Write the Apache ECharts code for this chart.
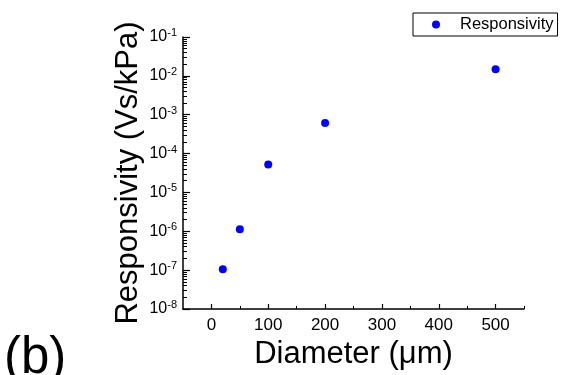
<!DOCTYPE html>
<html>
<head>
<meta charset="utf-8">
<script src="https://cdn.jsdelivr.net/npm/echarts@6/dist/echarts.min.js"></script>
<style>html,body{margin:0;padding:0;background:#fff}#c{width:561px;height:375px}</style>
</head>
<body>
<div id="c"></div>
<script>
const diameters = [20, 50, 100, 200, 500];
const responsivity = [1.06e-7, 1.12e-6, 5.2e-5, 6.1e-4, 1.48e-2];
const xTickValues = [0, 100, 200, 300, 400, 500];
const xMinorValues = [50, 150, 250, 350, 450, 550];
const yTickValues = [1e-8, 1e-7, 1e-6, 1e-5, 1e-4, 1e-3, 1e-2, 1e-1];
const yMinorValues = [];
for (let e = -8; e < -1; e++) for (let m = 2; m <= 9; m++) yMinorValues.push(+(m + 'e' + e));

const chart = echarts.init(document.getElementById('c'));
const font = 'Arial, "Liberation Sans", sans-serif';
chart.setOption({
  animation: false,
  textStyle: {fontFamily: font},
  grid: {left: 183, right: 37, top: 37, bottom: 63.5},
  legend: {
    left: 413, top: 13, padding: [3, 4, 3, 19],
    borderColor: '#000', borderWidth: 1, borderRadius: 0,
    icon: 'circle', itemWidth: 8, itemHeight: 8,
    textStyle: {fontSize: 16.5, color: '#000', fontFamily: font, padding: [0, 0, 0, 15]},
    data: ['Responsivity']
  },
  xAxis: [{
    type: 'value', min: -50, max: 550,
    name: 'Diameter (μm)', nameLocation: 'middle', nameGap: 30, nameMoveOverlap: false,
    nameTextStyle: {fontSize: 31, color: '#000', fontFamily: font},
    axisLine: {onZero: false, lineStyle: {color: '#000', width: 1.5}},
    axisTick: {inside: true, length: 5, customValues: xTickValues, lineStyle: {color: '#000', width: 1.2}},
    axisLabel: {customValues: xTickValues, fontSize: 17, color: '#000', margin: 8},
    splitLine: {show: false}
  }, {
    type: 'value', min: -50, max: 550, position: 'bottom',
    axisLine: {show: false, onZero: false},
    axisTick: {inside: true, length: 3, customValues: xMinorValues, lineStyle: {color: '#000', width: 1}},
    axisLabel: {show: false},
    splitLine: {show: false}
  }],
  yAxis: [{
    type: 'log', logBase: 10, min: 1e-8, max: 1e-1,
    name: 'Responsivity (Vs/kPa)', nameLocation: 'middle', nameGap: 39, nameMoveOverlap: false,
    nameTextStyle: {fontSize: 31, color: '#000', fontFamily: font},
    axisLine: {show: true, onZero: false, lineStyle: {color: '#000', width: 1.5}},
    axisTick: {show: true, inside: true, length: 7, customValues: yTickValues, lineStyle: {color: '#000', width: 1.2}},
    axisLabel: {
      customValues: yTickValues, margin: 6, color: '#000',
      formatter: v => '{b|10}{s|' + Math.round(Math.log10(v)) + '}',
      rich: {
        b: {fontSize: 16, color: '#000', fontFamily: font},
        s: {fontSize: 11, color: '#000', fontFamily: font, padding: [0, 0, 8, 0]}
      }
    },
    splitLine: {show: false}
  }, {
    type: 'log', logBase: 10, min: 1e-8, max: 1e-1, position: 'left',
    axisLine: {show: false, onZero: false},
    axisTick: {show: true, inside: true, length: 4, customValues: yMinorValues, lineStyle: {color: '#000', width: 1}},
    axisLabel: {show: false},
    splitLine: {show: false}
  }],
  series: [{
    name: 'Responsivity', type: 'scatter', xAxisIndex: 0, yAxisIndex: 0,
    symbol: 'circle', symbolSize: 8,
    itemStyle: {color: '#0000FF', opacity: 1},
    data: diameters.map((d, i) => [d, responsivity[i]])
  }],
  graphic: [{
    type: 'text', left: 4, top: 333,
    style: {text: '(b)', fontSize: 51, fill: '#000', fontFamily: font}
  }]
});
</script>
</body>
</html>
